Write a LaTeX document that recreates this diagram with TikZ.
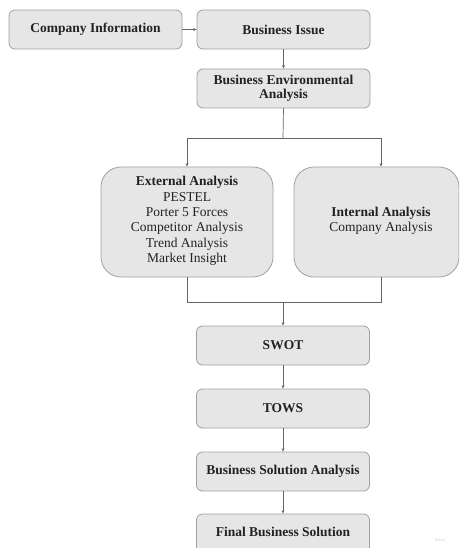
\documentclass[tikz,border=0pt]{standalone}
\usepackage{fontspec}
\setmainfont{Liberation Serif}
\usetikzlibrary{arrows.meta,calc}
\definecolor{boxfill}{HTML}{E6E6E6}
\definecolor{boxline}{HTML}{A0A0A0}
\definecolor{conn}{HTML}{666666}
\definecolor{txt}{HTML}{222222}
\tikzset{
  smallbox/.style={draw=boxline, fill=boxfill, rounded corners=6pt, line width=0.8pt,
    minimum width=173pt, minimum height=39pt, inner sep=2pt, align=center,
    font=\fontsize{13.5}{14.5}\selectfont\bfseries, text=txt},
  bigbox/.style={draw=boxline, fill=boxfill, rounded corners=20pt, line width=0.8pt,
    minimum height=110pt, inner sep=0pt},
  bigtext/.style={align=center, font=\fontsize{13.5}{15.3}\selectfont, text=txt, inner sep=0pt},
  conline/.style={draw=conn, line width=0.7pt},
  arr/.style={conline, -{Stealth[length=3.5pt,width=3pt]}},
}
\begin{document}
\begin{tikzpicture}[x=1pt,y=-1pt]
\useasboundingbox (0,0) rectangle (459,548);
\clip (0,0) rectangle (459,548);
\node[smallbox] (ci) at (95.5,29.5) {Company Information};
\node[smallbox] (bi) at (283.5,29.5) {Business Issue};
\node[smallbox] (bea) at (283.5,88.5) {Business Environmental\\Analysis};
\node[bigbox, minimum width=172pt] (ext) at (187,222) {};
\node[bigtext] (extt) at (187,221) {\textbf{External Analysis}\\PESTEL\\Porter 5 Forces\\Competitor Analysis\\Trend Analysis\\Market Insight};
\node[bigbox, minimum width=165pt] (int) at (376.5,222) {};
\node[bigtext] (intt) at (381,221) {\textbf{Internal Analysis}\\Company Analysis};
\node[smallbox] (swot) at (283,345.5) {SWOT};
\node[smallbox] (tows) at (283,408.5) {TOWS};
\node[smallbox] (bsa) at (283,471.5) {Business Solution Analysis};
\node[smallbox, minimum height=44pt] (fbs) at (283,536) {};
\node[font=\fontsize{13.5}{14.5}\selectfont\bfseries, text=txt] (fbst) at (283,532) {Final Business Solution};
\node[font=\fontsize{5}{6}\selectfont\sffamily\bfseries, text=black!15] (miro) at (440,540) {miro};

\coordinate (split) at (283,138);
\coordinate (extin) at (187,138);
\coordinate (intin) at (381,138);
\coordinate (extout) at (187,302);
\coordinate (intout) at (381,302);
\coordinate (join) at (283,302);

\draw[arr] (ci.east) -- (bi.west);
\draw[arr] (bi.south) -- (bea.north);
\draw[conline] (bea.south) -- (split);
\draw[conline] (extin) -- (intin);
\draw[arr] (extin) -- (ext.north);
\draw[arr] (intin) -- (intin |- int.north);
\draw[conline] (ext.south) -- (extout) -- (intout) -- (intout |- int.south);
\draw[arr] (join) -- (swot.north);
\draw[arr] (swot.south) -- (tows.north);
\draw[arr] (tows.south) -- (bsa.north);
\draw[arr] (bsa.south) -- (fbs.north);
\end{tikzpicture}
\end{document}
